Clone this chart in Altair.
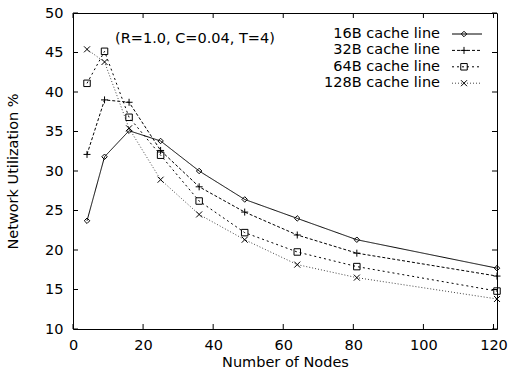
import altair as alt
import pandas as pd

nodes = [4, 9, 16, 25, 36, 49, 64, 81, 121]
series_names = ["16B cache line", "32B cache line", "64B cache line", "128B cache line"]
util_16 = [23.7, 31.8, 35.1, 33.8, 30.0, 26.4, 24.0, 21.3, 17.7]
util_32 = [32.1, 39.0, 38.7, 32.6, 28.0, 24.8, 21.9, 19.6, 16.7]
util_64 = [41.1, 45.15, 36.8, 32.0, 26.2, 22.2, 19.75, 17.9, 14.8]
util_128 = [45.4, 43.8, 35.4, 28.9, 24.5, 21.3, 18.15, 16.5, 13.8]
x_ticks = [0, 20, 40, 60, 80, 100, 120]
y_ticks = [10, 15, 20, 25, 30, 35, 40, 45, 50]
annotation = "(R=1.0, C=0.04, T=4)"

FONT = "DejaVu Sans"
FS = 14.5
W, H = 424, 316

all_vals = [util_16, util_32, util_64, util_128]
rows = []
for name, vals in zip(series_names, all_vals):
    for n, v in zip(nodes, vals):
        rows.append({"nodes": n, "util": v, "series": name})
df = pd.DataFrame(rows)

dashes = [[1, 0], [3, 2], [2, 3], [1, 2]]
line_colors = ["#000000", "#000000", "#000000", "#444444"]
PLUS = "M-1,0L1,0M0,-1L0,1"
XMARK = "M-1,-1L1,1M-1,1L1,-1"
shapes = ["diamond", PLUS, "square", XMARK]
sizes = [30, 49, 42, 36]

xs = alt.Scale(domain=[0, 121], nice=False, zero=False)
ys = alt.Scale(domain=[10, 50], nice=False, zero=False)

x_axis = alt.Axis(values=x_ticks, title="Number of Nodes", ticks=False, domain=False, grid=False,
                  labelPadding=9, labelFontSize=FS, titleFontSize=FS, titleFontWeight="normal",
                  labelFont=FONT, titleFont=FONT, labelColor="black", titleColor="black",
                  titleY=33, titleBaseline="middle", labelOverlap=False, labelFlush=False)
y_axis = alt.Axis(values=y_ticks, title="Network Utilization %", ticks=False, domain=False, grid=False,
                  labelPadding=10, labelFontSize=FS, titleFontSize=FS, titleFontWeight="normal",
                  labelFont=FONT, titleFont=FONT, labelColor="black", titleColor="black",
                  titleX=-60, titleBaseline="middle", labelOverlap=False, labelFlush=False)


def X(f):
    return alt.X(f, scale=xs, axis=x_axis)


def Y(f):
    return alt.Y(f, scale=ys, axis=y_axis)


lines = alt.Chart(df).mark_line(strokeWidth=1).encode(
    x=X("nodes:Q"), y=Y("util:Q"),
    detail="series:N",
    strokeDash=alt.StrokeDash("series:N", scale=alt.Scale(domain=series_names, range=dashes), legend=None),
    color=alt.Color("series:N", scale=alt.Scale(domain=series_names, range=line_colors), legend=None),
)
layers = [lines]
for name, shp, sz in zip(series_names, shapes, sizes):
    sub = df[df["series"] == name]
    layers.append(alt.Chart(sub).mark_point(shape=shp, size=sz, filled=False, stroke="black", strokeWidth=1, opacity=1).encode(
        x=X("nodes:Q"), y=Y("util:Q")))

# inward mirrored ticks
xt = pd.DataFrame({"nodes": x_ticks})
yt = pd.DataFrame({"util": y_ticks})
tk = 5
layers.append(alt.Chart(xt).mark_rule(color="black", strokeWidth=1).encode(
    x=X("nodes:Q"), y=alt.value(H), y2=alt.value(H - tk)))
layers.append(alt.Chart(xt).mark_rule(color="black", strokeWidth=1).encode(
    x=X("nodes:Q"), y=alt.value(0), y2=alt.value(tk)))
layers.append(alt.Chart(yt).mark_rule(color="black", strokeWidth=1).encode(
    y=Y("util:Q"), x=alt.value(0), x2=alt.value(tk)))
layers.append(alt.Chart(yt).mark_rule(color="black", strokeWidth=1).encode(
    y=Y("util:Q"), x=alt.value(W), x2=alt.value(W - tk)))

# annotation
ann = pd.DataFrame({"nodes": [12], "util": [46.7], "t": [annotation]})
layers.append(alt.Chart(ann).mark_text(align="left", baseline="middle", fontSize=FS, font=FONT, color="black").encode(
    x=X("nodes:Q"), y=Y("util:Q"), text="t:N"))

# legend (gnuplot style: label, then sample)
leg_y0, leg_dy = 21, 16.4
for i, (name, d, shp, sz, lc) in enumerate(zip(series_names, dashes, shapes, sizes, line_colors)):
    yy = leg_y0 + i * leg_dy
    ld = pd.DataFrame({"t": [name]})
    layers.append(alt.Chart(ld).mark_text(align="right", baseline="middle", fontSize=FS, font=FONT, color="black").encode(
        x=alt.value(367), y=alt.value(yy), text="t:N"))
    layers.append(alt.Chart(ld).mark_rule(color=lc, strokeWidth=1, strokeDash=d).encode(
        x=alt.value(379), x2=alt.value(409), y=alt.value(yy)))
    layers.append(alt.Chart(ld).mark_point(shape=shp, size=sz, filled=False, stroke="black", strokeWidth=1, opacity=1).encode(
        x=alt.value(391), y=alt.value(yy)))

chart = alt.layer(*layers).properties(
    width=W, height=H,
    padding={"left": 73, "top": 13, "right": 18, "bottom": 42},
    autosize=alt.AutoSizeParams(type="none"),
    background="white",
).configure_view(stroke="black", strokeWidth=1)

chart.save("out.html", embed_options={"renderer": "svg", "actions": False})
